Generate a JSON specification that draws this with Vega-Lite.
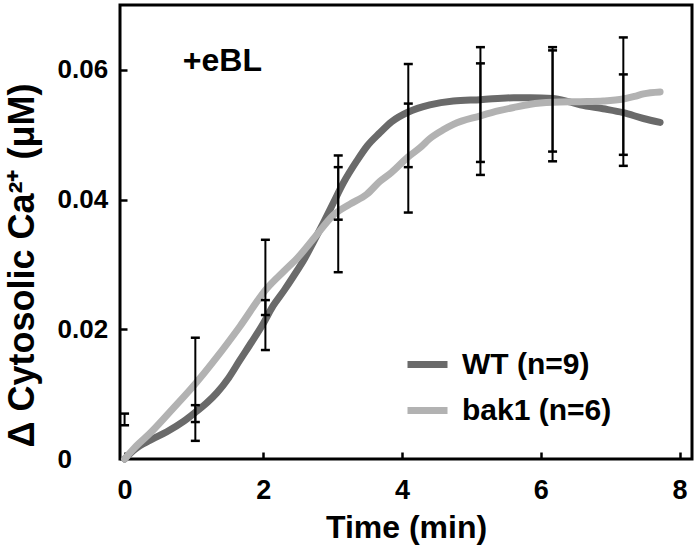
{
  "$schema": "https://vega.github.io/schema/vega-lite/v6.json",
  "width": 572,
  "height": 454,
  "autosize": "none",
  "padding": {"left": 120, "top": 5, "right": 6, "bottom": 91},
  "background": "white",
  "config": {
    "font": "Liberation Sans",
    "view": {"stroke": "black", "strokeWidth": 3},
    "axis": {"domain": false, "grid": false, "zindex": 1, "tickColor": "black", "tickWidth": 2.5, "labelColor": "black", "titleColor": "black", "labelFontWeight": "bold", "titleFontWeight": "bold"}
  },
  "datasets": {
    "curves": [
      {"series": "WT (n=9)", "t": 0, "v": 0},
      {"series": "WT (n=9)", "t": 0.15, "v": 0.0015},
      {"series": "WT (n=9)", "t": 0.37, "v": 0.0029},
      {"series": "WT (n=9)", "t": 0.61, "v": 0.0042},
      {"series": "WT (n=9)", "t": 0.85, "v": 0.0058},
      {"series": "WT (n=9)", "t": 1.02, "v": 0.0072},
      {"series": "WT (n=9)", "t": 1.2, "v": 0.0088},
      {"series": "WT (n=9)", "t": 1.33, "v": 0.0102},
      {"series": "WT (n=9)", "t": 1.5, "v": 0.0125},
      {"series": "WT (n=9)", "t": 1.66, "v": 0.0152},
      {"series": "WT (n=9)", "t": 1.83, "v": 0.018},
      {"series": "WT (n=9)", "t": 2.0, "v": 0.0209},
      {"series": "WT (n=9)", "t": 2.14, "v": 0.0236},
      {"series": "WT (n=9)", "t": 2.3, "v": 0.026},
      {"series": "WT (n=9)", "t": 2.43, "v": 0.0281},
      {"series": "WT (n=9)", "t": 2.6, "v": 0.031},
      {"series": "WT (n=9)", "t": 2.72, "v": 0.0334},
      {"series": "WT (n=9)", "t": 2.87, "v": 0.0365},
      {"series": "WT (n=9)", "t": 3.01, "v": 0.0395},
      {"series": "WT (n=9)", "t": 3.15, "v": 0.0425},
      {"series": "WT (n=9)", "t": 3.35, "v": 0.046},
      {"series": "WT (n=9)", "t": 3.5, "v": 0.0483},
      {"series": "WT (n=9)", "t": 3.68, "v": 0.0503},
      {"series": "WT (n=9)", "t": 3.85, "v": 0.052},
      {"series": "WT (n=9)", "t": 4.09, "v": 0.0535},
      {"series": "WT (n=9)", "t": 4.4, "v": 0.0546},
      {"series": "WT (n=9)", "t": 4.74, "v": 0.0552},
      {"series": "WT (n=9)", "t": 5.13, "v": 0.0554},
      {"series": "WT (n=9)", "t": 5.61, "v": 0.0557},
      {"series": "WT (n=9)", "t": 5.85, "v": 0.0557},
      {"series": "WT (n=9)", "t": 6.17, "v": 0.0556},
      {"series": "WT (n=9)", "t": 6.4, "v": 0.0551},
      {"series": "WT (n=9)", "t": 6.57, "v": 0.0546},
      {"series": "WT (n=9)", "t": 6.9, "v": 0.054},
      {"series": "WT (n=9)", "t": 7.19, "v": 0.0534},
      {"series": "WT (n=9)", "t": 7.48, "v": 0.0525},
      {"series": "WT (n=9)", "t": 7.72, "v": 0.0519},
      {"series": "bak1 (n=6)", "t": 0, "v": 0},
      {"series": "bak1 (n=6)", "t": 0.15, "v": 0.0018},
      {"series": "bak1 (n=6)", "t": 0.37, "v": 0.004},
      {"series": "bak1 (n=6)", "t": 0.7, "v": 0.0078},
      {"series": "bak1 (n=6)", "t": 1.02, "v": 0.0116},
      {"series": "bak1 (n=6)", "t": 1.33, "v": 0.0157},
      {"series": "bak1 (n=6)", "t": 1.66, "v": 0.0204},
      {"series": "bak1 (n=6)", "t": 2.05, "v": 0.0263},
      {"series": "bak1 (n=6)", "t": 2.3, "v": 0.029},
      {"series": "bak1 (n=6)", "t": 2.5, "v": 0.0311},
      {"series": "bak1 (n=6)", "t": 2.75, "v": 0.0343},
      {"series": "bak1 (n=6)", "t": 3.01, "v": 0.0376},
      {"series": "bak1 (n=6)", "t": 3.25, "v": 0.0393},
      {"series": "bak1 (n=6)", "t": 3.49, "v": 0.0408},
      {"series": "bak1 (n=6)", "t": 3.68, "v": 0.0428},
      {"series": "bak1 (n=6)", "t": 3.85, "v": 0.0442},
      {"series": "bak1 (n=6)", "t": 4.09, "v": 0.0466},
      {"series": "bak1 (n=6)", "t": 4.26, "v": 0.048},
      {"series": "bak1 (n=6)", "t": 4.4, "v": 0.0494},
      {"series": "bak1 (n=6)", "t": 4.6, "v": 0.0508},
      {"series": "bak1 (n=6)", "t": 4.74, "v": 0.0516},
      {"series": "bak1 (n=6)", "t": 5.13, "v": 0.0529},
      {"series": "bak1 (n=6)", "t": 5.4, "v": 0.0537},
      {"series": "bak1 (n=6)", "t": 5.61, "v": 0.0542},
      {"series": "bak1 (n=6)", "t": 5.85, "v": 0.0547},
      {"series": "bak1 (n=6)", "t": 6.17, "v": 0.055},
      {"series": "bak1 (n=6)", "t": 6.57, "v": 0.0551},
      {"series": "bak1 (n=6)", "t": 6.9, "v": 0.0552},
      {"series": "bak1 (n=6)", "t": 7.19, "v": 0.0555},
      {"series": "bak1 (n=6)", "t": 7.35, "v": 0.0559},
      {"series": "bak1 (n=6)", "t": 7.48, "v": 0.0563},
      {"series": "bak1 (n=6)", "t": 7.72, "v": 0.0566}
    ],
    "bars": [
      {"t": 0.0, "lo": 0.0052, "hi": 0.007},
      {"t": 1.02, "lo": 0.0028, "hi": 0.0187},
      {"t": 1.02, "lo": 0.0057, "hi": 0.0083},
      {"t": 2.03, "lo": 0.0168, "hi": 0.0338},
      {"t": 2.03, "lo": 0.0222, "hi": 0.0245},
      {"t": 3.08, "lo": 0.0288, "hi": 0.0468},
      {"t": 3.08, "lo": 0.0369, "hi": 0.045},
      {"t": 4.09, "lo": 0.045, "hi": 0.0609},
      {"t": 4.09, "lo": 0.038, "hi": 0.0548},
      {"t": 5.13, "lo": 0.0458, "hi": 0.0635},
      {"t": 5.13, "lo": 0.0438, "hi": 0.061},
      {"t": 6.17, "lo": 0.0459, "hi": 0.0635},
      {"t": 6.17, "lo": 0.0474, "hi": 0.063},
      {"t": 7.19, "lo": 0.0452, "hi": 0.065},
      {"t": 7.19, "lo": 0.0469, "hi": 0.0593}
    ]
  },
  "layer": [
    {
      "data": {"name": "curves"},
      "mark": {"type": "line", "strokeWidth": 7, "strokeCap": "round", "interpolate": "monotone"},
      "encoding": {
        "x": {"field": "t", "type": "quantitative", "scale": {"domain": [-0.066, 8.18], "nice": false, "zero": false},
          "axis": {"values": [0, 2, 4, 6, 8], "format": "d", "title": "Time (min)", "titleFontSize": 32, "labelFontSize": 27, "tickSize": -7, "labelPadding": 25, "labelFlush": false, "titlePadding": 9}},
        "y": {"field": "v", "type": "quantitative", "scale": {"domain": [0, 0.07], "nice": false},
          "axis": {"values": [0, 0.02, 0.04, 0.06], "labelExpr": "datum.value == 0 ? '0' : format(datum.value, '.2f')", "title": "Δ Cytosolic Ca²⁺ (μM)", "titleFontSize": 36, "titleAngle": -90, "titleX": -98, "titleY": 260, "titleAlign": "center", "titleBaseline": "middle", "labelFontSize": 26, "tickSize": -7, "labelPadding": 70, "labelAlign": "left", "labelFlush": false}},
        "color": {"field": "series", "type": "nominal", "sort": ["WT (n=9)", "bak1 (n=6)"],
          "scale": {"domain": ["WT (n=9)", "bak1 (n=6)"], "range": ["#6a6a6a", "#b2b2b2"]},
          "legend": {"title": null, "orient": "none", "legendX": 284, "legendY": 336, "symbolType": "stroke", "symbolStrokeWidth": 7, "symbolSize": 1600, "labelFontSize": 30, "labelFontWeight": "bold", "labelColor": "black", "labelOffset": 11, "rowPadding": 7}}
      }
    },
    {
      "data": {"name": "bars"},
      "mark": {"type": "rule", "color": "black", "strokeWidth": 2},
      "encoding": {
        "x": {"field": "t", "type": "quantitative"},
        "y": {"field": "lo", "type": "quantitative"},
        "y2": {"field": "hi"}
      }
    },
    {
      "data": {"name": "bars"},
      "mark": {"type": "tick", "color": "black", "orient": "horizontal", "size": 9, "thickness": 2.5, "opacity": 1},
      "encoding": {
        "x": {"field": "t", "type": "quantitative"},
        "y": {"field": "lo", "type": "quantitative"}
      }
    },
    {
      "data": {"name": "bars"},
      "mark": {"type": "tick", "color": "black", "orient": "horizontal", "size": 9, "thickness": 2.5, "opacity": 1},
      "encoding": {
        "x": {"field": "t", "type": "quantitative"},
        "y": {"field": "hi", "type": "quantitative"}
      }
    },
    {
      "data": {"values": [{"label": "+eBL"}]},
      "mark": {"type": "text", "align": "left", "baseline": "alphabetic", "fontSize": 32, "fontWeight": "bold", "color": "black"},
      "encoding": {
        "x": {"datum": 0.84},
        "y": {"datum": 0.0598},
        "text": {"field": "label"}
      }
    }
  ]
}
